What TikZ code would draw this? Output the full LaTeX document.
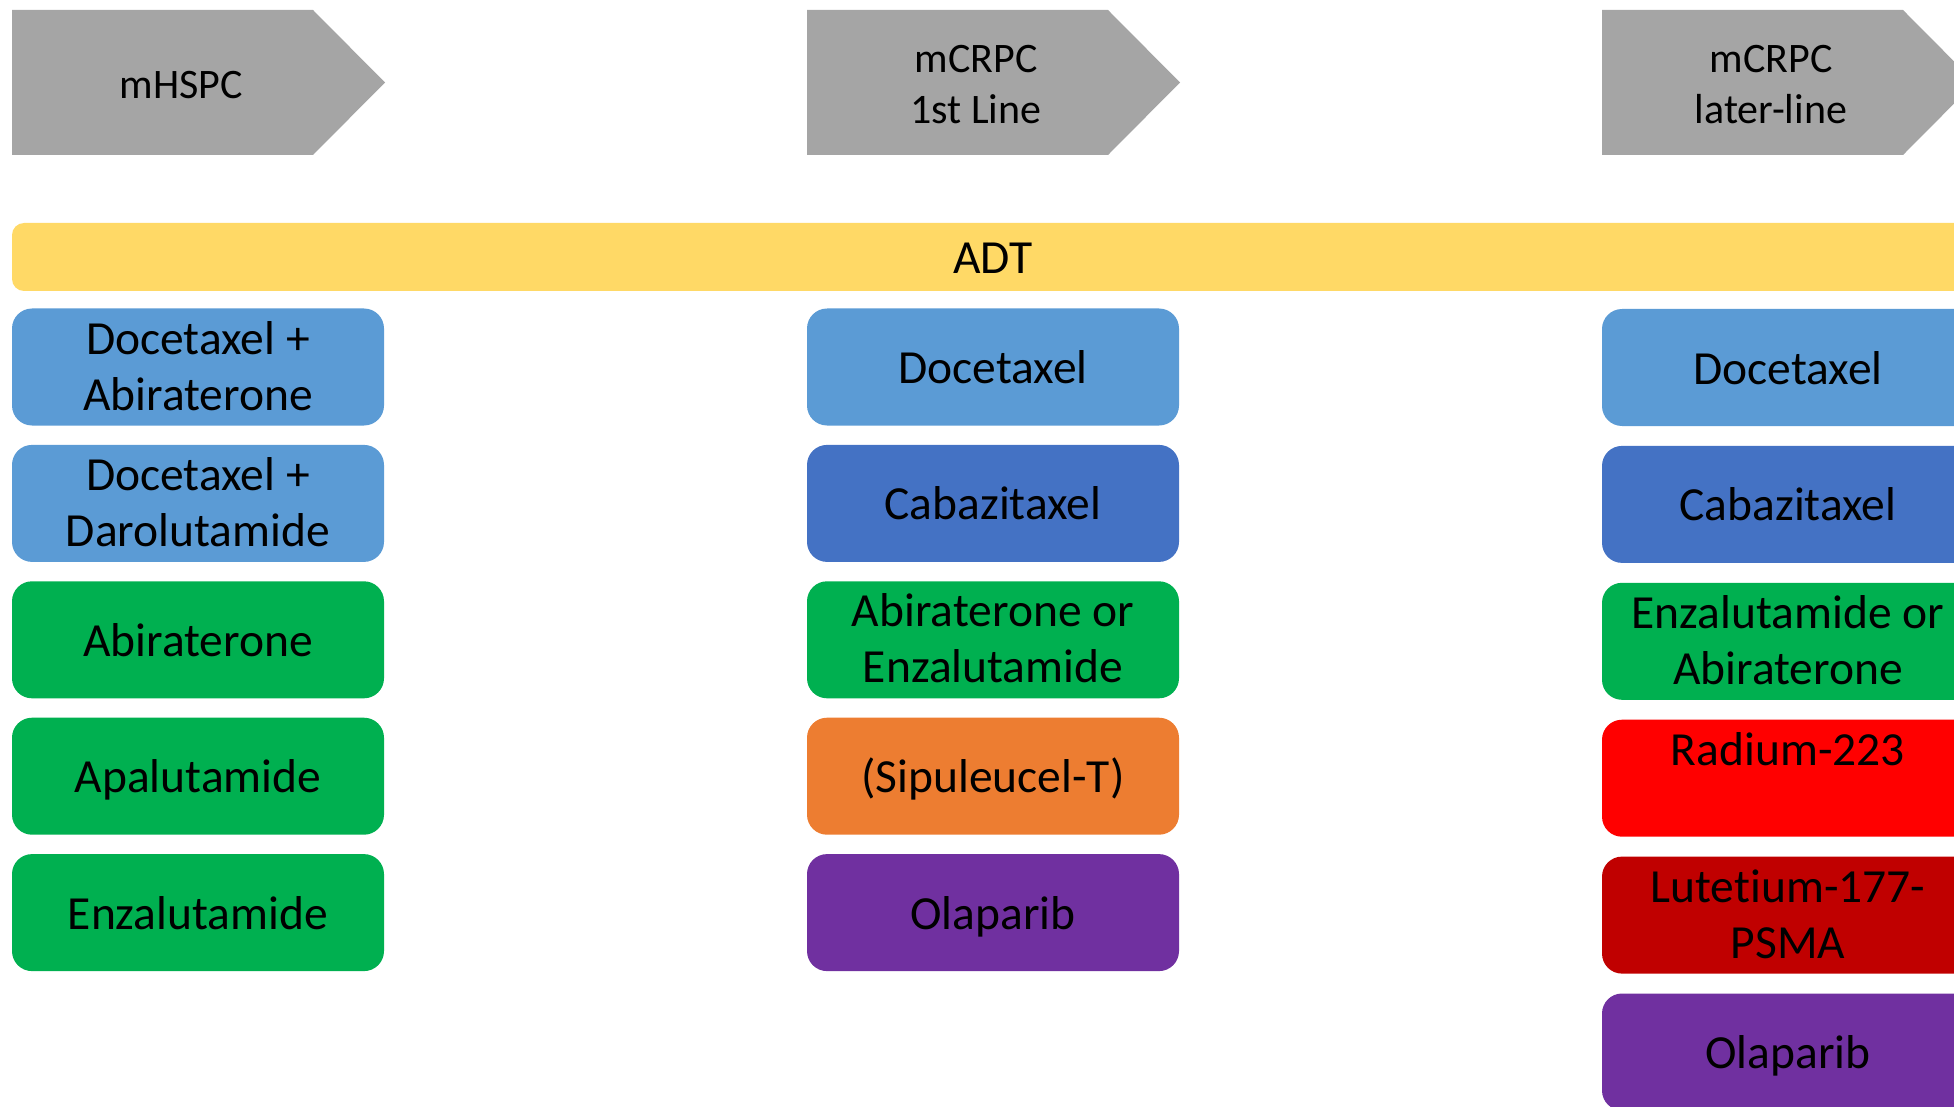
\documentclass[tikz,border=0pt]{standalone}
\usepackage{fontspec}
\setmainfont[Ligatures=NoCommon]{Carlito}
\usetikzlibrary{positioning}
\definecolor{stagegray}{HTML}{A5A5A5}
\definecolor{adtyellow}{HTML}{FFD966}
\definecolor{taxblue}{HTML}{5B9BD5}
\definecolor{cabblue}{HTML}{4472C4}
\definecolor{arigreen}{HTML}{00B050}
\definecolor{siporange}{HTML}{ED7D31}
\definecolor{parppurple}{HTML}{7030A0}
\definecolor{radred}{HTML}{FF0000}
\definecolor{lutred}{HTML}{C00000}
\tikzset{
    drugfont/.style={inner sep=0pt, font=\fontsize{47.5}{56}\selectfont,
        text height=44pt, text depth=11pt},
    drug/.style={drugfont, text width=372pt, align=flush center, rounded corners=20pt,
        minimum width=372pt, minimum height=117pt},
    twoline/.style={text depth=70pt},
    stagetxt/.style={align=center, inner sep=0pt, font=\fontsize{42}{51}\selectfont},
}
\begin{document}
\begin{tikzpicture}[x=1pt, y=-1pt, node distance=19pt]
\clip (0,0) rectangle (1954,1107);
\useasboundingbox (0,0) rectangle (1954,1107);
\foreach \x/\nm/\txt in {12/mhspc/mHSPC, 807/firstline/{mCRPC\\1st Line}, 1602/laterline/{mCRPC\\later-line}} {
    \fill[stagegray] (\x,10) -- ++(301,0) -- ++(72,72.5) -- ++(-72,72.5) -- ++(-301,0) -- cycle;
    \node[stagetxt] (\nm) at (\x+169,85) {\txt};
}
\node[drugfont, fill=adtyellow, rounded corners=12pt, minimum width=1962pt, minimum height=68pt]
    (adt) at (993,257) {ADT};
% mHSPC
\node[drug, twoline, fill=taxblue] (docabi) at (198,367) {Docetaxel +\\Abiraterone};
\node[drug, twoline, fill=taxblue, below=of docabi] (docdaro) {Docetaxel +\\Darolutamide};
\node[drug, fill=arigreen, below=of docdaro] (abi) {Abiraterone};
\node[drug, fill=arigreen, below=of abi] (apa) {Apalutamide};
\node[drug, fill=arigreen, below=of apa] (enza) {Enzalutamide};
% mCRPC 1st line
\node[drug, fill=taxblue] (doc) at (993,367) {Docetaxel};
\node[drug, fill=cabblue, below=of doc] (caba) {Cabazitaxel};
\node[drug, twoline, fill=arigreen, below=of caba] (abienza) {Abiraterone or\\Enzalutamide};
\node[drug, fill=siporange, below=of abienza] (sipu) {(Sipuleucel-T)};
\node[drug, fill=parppurple, below=of sipu] (ola) {Olaparib};
% mCRPC later-line
\node[drug, fill=taxblue] (doclate) at (1788,367.5) {Docetaxel};
\node[drug, fill=cabblue, below=19.5pt of doclate] (cabalate) {Cabazitaxel};
\node[drug, twoline, fill=arigreen, below=19.5pt of cabalate] (enzaabi) {Enzalutamide or\\Abiraterone};
\node[drug, twoline, fill=radred, below=19.5pt of enzaabi] (radium) {Radium-223};
\node[drug, twoline, fill=lutred, below=19.5pt of radium] (lupsma) {Lutetium-177-\\PSMA};
\node[drug, fill=parppurple, below=19.5pt of lupsma] (olalate) {Olaparib};
\end{tikzpicture}
\end{document}
